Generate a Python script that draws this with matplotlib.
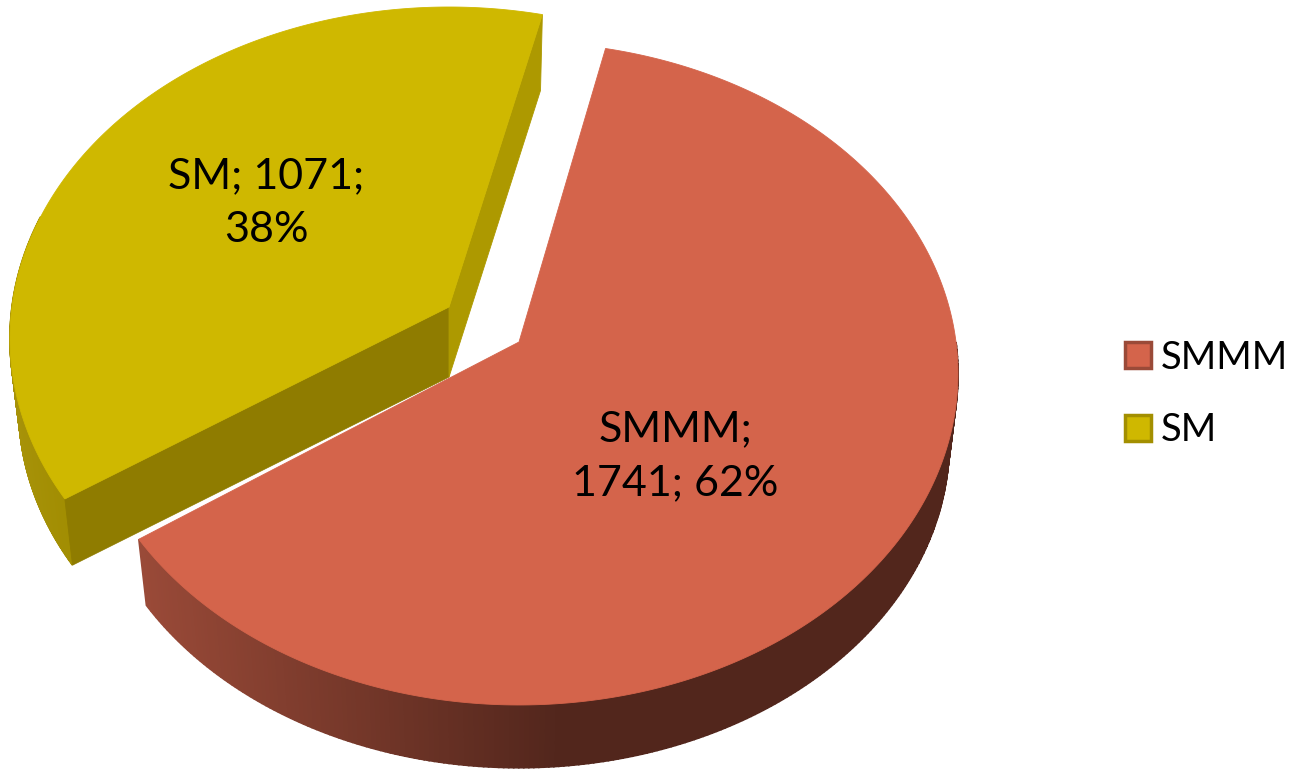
import numpy as np
import matplotlib
matplotlib.use("Agg")
import matplotlib.pyplot as plt
from matplotlib.patches import Patch, Polygon

names = ["SMMM", "SM"]
values = [1741, 1071]
top_colors = ["#D4644B", "#CFB800"]
edge_colors = ["#9A4A38", "#A38F00"]

plt.rcParams["font.family"] = ["Lato", "DejaVu Sans"]

# pie shape in pixels, fitted to the reference
start_angle = 12.5
yellow_turn = 1.0
radius_x, radius_y = 437, 328.5
persp = 0.095
depth, bottom_scale = 70, 0.98
apex_red = (519, 342)
apex_yellow = (449, 307)


def project(angle, apex, bottom=False):
    a = np.radians(angle)
    w = 1 + persp * np.cos(a)
    dx = radius_x * np.sin(a) / w
    dy = -radius_y * np.cos(a) / w
    if bottom:
        return apex[0] + bottom_scale * dx, apex[1] + bottom_scale * dy + depth
    return apex[0] + dx, apex[1] + dy


def mix(c0, c1, t):
    t = float(np.clip(t, 0, 1))
    a = np.array(matplotlib.colors.to_rgb(c0))
    b = np.array(matplotlib.colors.to_rgb(c1))
    return tuple(a + (b - a) * t)


def wall(ax, a0, a1, apex, color_fn):
    # outer wall as thin quads so the shade can change along the rim
    angles = np.linspace(a0, a1, 240)
    for p, q in zip(angles[:-1], angles[1:]):
        x0, y0 = project(p, apex)
        x1, y1 = project(q, apex)
        x2, y2 = project(q, apex, True)
        x3, y3 = project(p, apex, True)
        c = color_fn((x0 + x1) / 2)
        ax.add_patch(Polygon([(x0, y0), (x1, y1), (x2, y2), (x3, y3)], fc=c, ec=c, lw=1.2))


def top_face(ax, a0, a1, apex, color):
    pts = [apex] + [project(a, apex) for a in np.linspace(a0, a1, 300)]
    ax.add_patch(Polygon(pts, fc=color, ec=color, lw=0.6, zorder=3))


total = sum(values)
sweep = [v / total * 360 for v in values]
red_a0, red_a1 = start_angle, start_angle + sweep[0]
yel_a0, yel_a1 = red_a1 + yellow_turn, red_a1 + yellow_turn + sweep[1]

fig = plt.figure(figsize=(12.92, 7.72), dpi=100)
ax = fig.add_axes([0, 0, 1, 1])
ax.set_xlim(0, 1292)
ax.set_ylim(772, 0)
ax.set_axis_off()

# yellow slice
wall(ax, yel_a0, yel_a0 + 50, apex_yellow, lambda x: mix("#A8930A", "#A08C00", x / 80))
apex_yb = (apex_yellow[0], apex_yellow[1] + depth)
ax.add_patch(Polygon([apex_yellow, project(yel_a0, apex_yellow), project(yel_a0, apex_yellow, True), apex_yb],
                     fc="#8F7C00", ec="#8F7C00", lw=0.6))
ax.add_patch(Polygon([apex_yellow, project(yel_a1, apex_yellow), project(yel_a1, apex_yellow, True), apex_yb],
                     fc="#AD9900", ec="#AD9900", lw=0.6))
top_face(ax, yel_a0, yel_a1, apex_yellow, top_colors[1])

# red slice
wall(ax, 90, red_a1, apex_red, lambda x: mix("#52261C", "#9A4A38", (560 - x) / (560 - 137)))
top_face(ax, red_a0, red_a1, apex_red, top_colors[0])

# data labels
pct = [round(v / total * 100) for v in values]
ax.text(675, 456, f"{names[0]};\n{values[0]}; {pct[0]}%", ha="center", va="center",
        fontsize=31, linespacing=1.5, color="black", zorder=5)
ax.text(266, 203, f"{names[1]}; {values[1]};\n{pct[1]}%", ha="center", va="center",
        fontsize=31, linespacing=1.5, color="black", zorder=5)

handles = [Patch(fc=c, ec=e, lw=2.5) for c, e in zip(top_colors, edge_colors)]
ax.legend(handles, names, loc="center left", bbox_to_anchor=(1125 / 1292, 1 - 394 / 772), frameon=False,
          fontsize=27.5, handlelength=0.67, handleheight=0.67, handletextpad=0.27,
          labelspacing=0.95, borderpad=0, borderaxespad=0)

fig.savefig("out.png", dpi=100)
